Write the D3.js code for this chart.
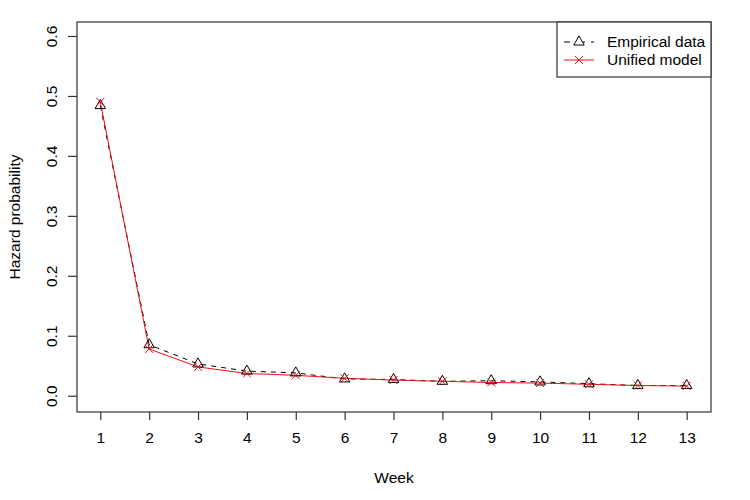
<!DOCTYPE html>
<html>
<head>
<meta charset="utf-8">
<script src="https://cdn.jsdelivr.net/npm/d3@7"></script>
<style>
  html, body { margin: 0; padding: 0; background: #fff; }
  text { font-family: "Liberation Sans", Arial, Helvetica, sans-serif; fill: #000; }
</style>
</head>
<body>
<svg id="chart" width="750" height="500"></svg>
<script>
const weeks = [1, 2, 3, 4, 5, 6, 7, 8, 9, 10, 11, 12, 13];
const empirical = [0.484, 0.085, 0.053, 0.041, 0.038, 0.028, 0.027, 0.024, 0.025, 0.023, 0.020, 0.017, 0.017];
const unified = [0.490, 0.078, 0.048, 0.037, 0.034, 0.029, 0.026, 0.024, 0.022, 0.021, 0.019, 0.017, 0.016];
const yTicks = [0, 0.1, 0.2, 0.3, 0.4, 0.5, 0.6];
const seriesNames = ["Empirical data", "Unified model"];

const svg = d3.select("#chart");
const box = { left: 77, right: 711, top: 22, bottom: 412 };

const x = d3.scaleLinear().domain([1, 13]).range([100.3, 686.7]);
const y = d3.scaleLinear().domain([0, 0.6]).range([395.7, 36]);

const axisColor = "#333";
const fs = 15.5;

// plot box
svg.append("rect")
  .attr("x", box.left).attr("y", box.top)
  .attr("width", box.right - box.left).attr("height", box.bottom - box.top)
  .attr("fill", "none").attr("stroke", axisColor).attr("stroke-width", 1.2);

// x axis
const xAxis = d3.axisBottom(x).tickValues(weeks).tickFormat(d3.format("d")).tickSize(8).tickPadding(12);
const gx = svg.append("g").attr("transform", `translate(0,${box.bottom})`).call(xAxis);
gx.select(".domain").remove();
gx.selectAll(".tick line").attr("stroke", axisColor).attr("stroke-width", 1.2);
gx.selectAll(".tick text").attr("font-size", fs).attr("font-family", "Liberation Sans, Arial, sans-serif").attr("fill", "#000");

// y axis
const yAxis = d3.axisLeft(y).tickValues(yTicks).tickFormat(d3.format(".1f")).tickSize(9).tickPadding(0);
const gy = svg.append("g").attr("transform", `translate(${box.left},0)`).call(yAxis);
gy.select(".domain").remove();
gy.selectAll(".tick line").attr("stroke", axisColor).attr("stroke-width", 1.2);
gy.selectAll(".tick text")
  .attr("font-size", fs).attr("font-family", "Liberation Sans, Arial, sans-serif").attr("fill", "#000")
  .attr("x", null).attr("dy", null)
  .attr("text-anchor", "middle")
  .attr("transform", "translate(-20,0) rotate(-90)");

// axis titles
svg.append("text").attr("x", (box.left + box.right) / 2).attr("y", 483)
  .attr("text-anchor", "middle").attr("font-size", fs).text("Week");
svg.append("text").attr("transform", `translate(20,${(box.top + box.bottom) / 2}) rotate(-90)`)
  .attr("text-anchor", "middle").attr("font-size", fs).text("Hazard probability");

// lines
const line = d3.line().x((d, i) => x(weeks[i])).y(d => y(d));
svg.append("path").datum(empirical).attr("d", line)
  .attr("fill", "none").attr("stroke", "#000").attr("stroke-width", 1).attr("stroke-dasharray", "5,5");
svg.append("path").datum(unified).attr("d", line)
  .attr("fill", "none").attr("stroke", "#e8131b").attr("stroke-width", 1);

// markers
const tri = (cx, cy, s) => {
  const h = s * Math.sqrt(3) / 2;
  return `M${cx},${cy - h * 2 / 3}L${cx + s / 2},${cy + h / 3}L${cx - s / 2},${cy + h / 3}Z`;
};
const cross = (cx, cy, r) => `M${cx - r},${cy - r}L${cx + r},${cy + r}M${cx - r},${cy + r}L${cx + r},${cy - r}`;

svg.append("g").selectAll("path").data(empirical).join("path")
  .attr("d", (d, i) => tri(x(weeks[i]), y(d), 10.5))
  .attr("fill", "none").attr("stroke", "#000").attr("stroke-width", 1);
svg.append("g").selectAll("path").data(unified).join("path")
  .attr("d", (d, i) => cross(x(weeks[i]), y(d), 4))
  .attr("fill", "none").attr("stroke", "#e8131b").attr("stroke-width", 1);

// legend
const lg = svg.append("g");
lg.append("rect").attr("x", 557).attr("y", box.top).attr("width", box.right - 557).attr("height", 77 - box.top)
  .attr("fill", "#fff").attr("stroke", axisColor).attr("stroke-width", 1.2);
const rows = [
  { name: seriesNames[0], y: 42, color: "#000", dash: "5,5", marker: "tri" },
  { name: seriesNames[1], y: 60, color: "#e8131b", dash: null, marker: "cross" }
];
rows.forEach(r => {
  lg.append("line").attr("x1", 564).attr("x2", 594).attr("y1", r.y).attr("y2", r.y)
    .attr("stroke", r.color).attr("stroke-width", 1).attr("stroke-dasharray", r.dash ? "6,9,6" : null);
  lg.append("path").attr("d", r.marker === "tri" ? tri(579, r.y, 10.5) : cross(579, r.y, 4))
    .attr("fill", r.marker === "tri" ? "#fff" : "none").attr("stroke", r.color).attr("stroke-width", 1);
  lg.append("text").attr("x", 607).attr("y", r.y).attr("dy", "0.35em").attr("font-size", fs).text(r.name);
});
</script>
</body>
</html>
